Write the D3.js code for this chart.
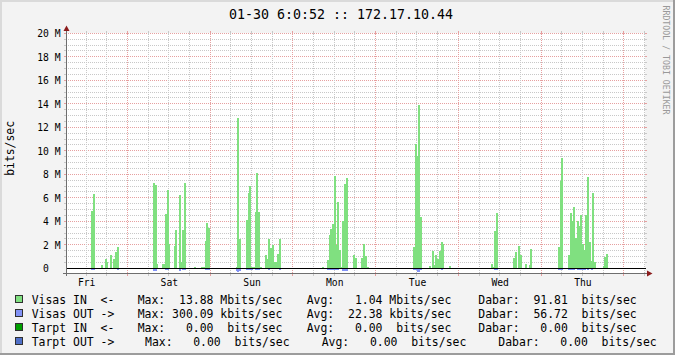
<!DOCTYPE html>
<html><head><meta charset="utf-8">
<script src="https://cdn.jsdelivr.net/npm/d3@7"></script>
<style>
html,body{margin:0;padding:0;background:#f3f3f3;}
svg{display:block;}
text{font-family:"DejaVu Sans Mono",monospace;white-space:pre;}
</style></head><body>
<svg id="c" width="675" height="355"></svg>
<script>
// ---------------- data ----------------
const titleText = "01-30 6:0:52 :: 172.17.10.44";
const yAxisTitle = "bits/sec";
const watermark = "RRDTOOL / TOBI OETIKER";
const startTime = new Date(2015, 0, 23, 6, 0, 52);
const endTime = new Date(2015, 0, 30, 6, 0, 52);
const stepMinutes = 30;
const yMaxM = 20;
const yMinM = -0.43;
const yMajorTicksM = [0, 2, 4, 6, 8, 10, 12, 14, 16, 18, 20];
// samples: [half-hour index from start, Mbit/s]
const visasInSamples = [
  [15,4.9],[16,6.3],[21,0.26],[23,0.77],[24,0.5],[26,1.1],[28,0.77],[29,1.39],[30,1.79],
  [51,7.26],[52,7.06],[53,0.34],[56,0.34],[57,0.34],[58,4.6],[59,6.67],[60,2.1],[63,1.9],[64,3.3],
  [66,6.24],[67,0.5],[68,3.26],[69,7.23],[75,0.1],[79,0.1],[80,0.1],[81,2.33],[82,3.9],[83,3.43],
  [99,0.1],[100,12.77],[101,2.47],[105,4.09],[106,6.41],[107,6.98],[108,0.1],[109,0.1],[110,4.77],
  [111,8.09],[112,4.77],[113,0.1],[116,1.1],[117,0.77],[118,2.47],[119,1.7],[120,2.0],[121,0.5],
  [122,0.5],[123,1.19],[124,2.47],
  [149,0.08],[152,0.68],[153,2.81],[154,3.32],[155,3.74],[156,7.83],[157,2.0],[158,5.62],[159,1.53],
  [160,0.1],[161,4.0],[162,7.15],[163,7.66],[167,1.1],[168,0.85],[172,0.85],[173,2.04],[174,1.02],[175,0.08],
  [202,1.79],[203,10.58],[204,9.56],[205,13.87],[206,4.34],[211,0.17],[213,1.45],[214,0.3],[215,1.1],
  [216,0.77],[217,1.45],[218,2.21],[219,2.04],[223,0.17],
  [247,0.34],[248,0.11],[249,3.15],[250,4.68],[260,0.9],[261,1.4],[263,1.87],[264,1.1],[267,0.34],
  [269,0.26],[270,1.62],
  [286,1.79],[287,7.4],[288,9.36],[292,1.1],[293,4.68],[294,4.0],[295,5.19],[296,2.6],[297,4.0],
  [298,3.6],[299,4.51],[300,2.04],[301,1.53],[302,4.51],[303,7.74],[304,2.21],[305,0.6],[306,6.4],
  [307,0.5],[312,0.17],[313,0.94],[314,1.19]
];
// outgoing magnitudes (drawn below zero)
const visasOutSamples = [
  [15,0.17],[16,0.17],[30,0.12],[51,0.26],[52,0.26],[58,0.11],[59,0.11],[66,0.26],[68,0.1],[69,0.1],
  [81,0.1],[82,0.1],[83,0.1],[99,0.2],[100,0.34],[101,0.2],[105,0.17],[106,0.17],[107,0.17],[108,0.17],
  [110,0.17],[111,0.17],[112,0.17],[118,0.1],[124,0.1],[152,0.12],[153,0.17],[154,0.17],[155,0.17],
  [156,0.17],[157,0.1],[158,0.17],[161,0.2],[162,0.2],[163,0.2],[202,0.17],[203,0.17],[204,0.34],
  [205,0.34],[206,0.17],[218,0.1],[249,0.1],[250,0.1],[286,0.17],[287,0.17],[288,0.17],[292,0.1],
  [293,0.1],[294,0.1],[295,0.1],[297,0.1],[298,0.1],[299,0.1],[300,0.1],[301,0.1],[303,0.17],[305,0.17]
];
const tarptInSamples = [];
const tarptOutSamples = [];
const legendLabels = ["Visas IN  <-", "Visas OUT ->", "Tarpt IN  <-", "Tarpt OUT ->"];
const legendMax = ["Max:  13.88 Mbits/sec", "Max: 300.09 kbits/sec", "Max:   0.00  bits/sec", "Max:   0.00  bits/sec"];
const legendAvg = ["Avg:   1.04 Mbits/sec", "Avg:  22.38 kbits/sec", "Avg:   0.00  bits/sec", "Avg:   0.00  bits/sec"];
const legendDabar = ["Dabar:  91.81  bits/sec", "Dabar:  56.72  bits/sec", "Dabar:   0.00  bits/sec", "Dabar:   0.00  bits/sec"];
const seriesColors = ["#80e080", "#8292f5", "#00a000", "#5070c8"];

// ---------------- drawing ----------------
const svg = d3.select("#c");
const W = 675, H = 355;
const stepMs = stepMinutes * 60000;

const x = d3.scaleTime().domain([startTime, endTime]).range([65.5, 644.5]);
const y = d3.scaleLinear().domain([yMinM, yMaxM]).range([273.4, 33.3]);
const X0 = 66.5, YB = 273.5;

const minorCol = "#c8c8c8", majorCol = "#e6a0a0";
const defs = svg.append("defs");
function pat(id, w, h, col) {
  const p = defs.append("pattern").attr("id", id).attr("patternUnits", "userSpaceOnUse")
    .attr("x", 0).attr("y", 0).attr("width", w).attr("height", h);
  p.append("rect").attr("x", 0).attr("y", 0).attr("width", 1).attr("height", 1).attr("fill", col);
}
pat("hMinor", 2, 1, minorCol); pat("hMajor", 2, 1, majorCol);
pat("vMinor", 1, 2, minorCol); pat("vMajor", 1, 2, majorCol);

// background & frame
svg.append("rect").attr("width", W).attr("height", H).attr("fill", "#f3f3f3");
svg.append("rect").attr("x", 0).attr("y", 0).attr("width", W).attr("height", 2).attr("fill", "#dadada");
svg.append("rect").attr("x", 0).attr("y", 0).attr("width", 2).attr("height", H).attr("fill", "#dadada");
svg.append("rect").attr("x", 0).attr("y", H - 2).attr("width", W).attr("height", 2).attr("fill", "#9c9c9c");
svg.append("rect").attr("x", W - 2).attr("y", 0).attr("width", 2).attr("height", H).attr("fill", "#9c9c9c");

// plot canvas
svg.append("rect").attr("x", 66).attr("y", 33).attr("width", 579).attr("height", 240).attr("fill", "#ffffff");

const grid = svg.append("g").attr("shape-rendering", "crispEdges");

// horizontal grid
const hMinorV = d3.range(0.5, yMaxM + 0.01, 0.5).filter(v => Math.abs(v % 2) > 0.01);
const hMajorV = yMajorTicksM.filter(v => v > 0);
function hLine(v, col, id) {
  const yy = Math.floor(y(v));
  grid.append("rect").attr("x", 67).attr("y", yy).attr("width", 578).attr("height", 1).attr("fill", `url(#${id})`);
  grid.append("rect").attr("x", 64).attr("y", yy).attr("width", 3).attr("height", 1).attr("fill", col);
  grid.append("rect").attr("x", 645).attr("y", yy).attr("width", 2).attr("height", 1).attr("fill", col);
}
hMinorV.forEach(v => hLine(v, minorCol, "hMinor"));
hMajorV.forEach(v => hLine(v, majorCol, "hMajor"));

// vertical grid
const vTimes = d3.timeHour.every(6).range(startTime, endTime);
function vLine(t, col, id) {
  const xx = Math.floor(x(t));
  grid.append("rect").attr("x", xx).attr("y", 34).attr("width", 1).attr("height", 239).attr("fill", `url(#${id})`);
  grid.append("rect").attr("x", xx).attr("y", 31).attr("width", 1).attr("height", 3).attr("fill", col);
  grid.append("rect").attr("x", xx).attr("y", 274).attr("width", 1).attr("height", 2).attr("fill", col);
}
vTimes.filter(t => t.getHours() !== 0).forEach(t => vLine(t, minorCol, "vMinor"));
vTimes.filter(t => t.getHours() === 0).forEach(t => vLine(t, majorCol, "vMajor"));

// series as pixel-snapped bars (each sample at least 2 px wide, later samples overdraw)
const bars = svg.append("g").attr("shape-rendering", "crispEdges");
const slotX = i => Math.floor(x(new Date(+startTime + i * stepMs)));
function drawSeries(samples, sign, color) {
  bars.append("g").selectAll("rect").data(samples).join("rect")
    .attr("x", d => slotX(d[0]))
    .attr("width", d => Math.max(2, slotX(d[0] + 1) - slotX(d[0])))
    .attr("y", d => sign > 0 ? Math.round(y(d[1])) : Math.round(y(0)))
    .attr("height", d => sign > 0 ? Math.max(1, Math.round(y(0)) - Math.round(y(d[1])))
                                  : Math.max(1, Math.round(y(-d[1])) - Math.round(y(0))))
    .attr("fill", color);
}
drawSeries(visasInSamples, 1, seriesColors[0]);
drawSeries(visasOutSamples, -1, seriesColors[1]);
drawSeries(tarptInSamples, 1, seriesColors[2]);
drawSeries(tarptOutSamples, -1, seriesColors[3]);

// zero rule
svg.append("rect").attr("x", 66).attr("y", Math.floor(y(0))).attr("width", 580).attr("height", 1).attr("fill", "#000");

// axes lines + arrows
const axisCol = "#6e6e6e";
svg.append("rect").attr("x", 66).attr("y", 28).attr("width", 1).attr("height", 248).attr("fill", axisCol);
svg.append("rect").attr("x", 63).attr("y", 273).attr("width", 585).attr("height", 1).attr("fill", axisCol);
svg.append("path").attr("d", "M63.5,31L69.5,31L66.5,25.5Z").attr("fill", "#8b1c1c");
svg.append("path").attr("d", "M647,270.5L647,276.5L652.5,273.5Z").attr("fill", "#8b1c1c");

// y axis labels
const yAxis = d3.axisLeft(y).tickValues(yMajorTicksM).tickSize(0).tickPadding(6)
  .tickFormat(v => v === 0 ? "0" : v + " M");
const gy = svg.append("g").attr("transform", `translate(${X0},0.3)`).call(yAxis);
gy.select(".domain").remove();
gy.selectAll("text").attr("font-family", "DejaVu Sans Mono").attr("font-size", "9.7px")
  .attr("fill", "#000").attr("dy", "0.34em")
  .attr("dx", v => v === 0 ? -11.6 : 0);

// x axis labels (day names at noon)
const noons = d3.timeDay.range(d3.timeDay.floor(startTime), endTime).map(d => d3.timeHour.offset(d, 12))
  .filter(d => d >= startTime && d <= endTime);
const xAxis = d3.axisBottom(x).tickValues(noons).tickSize(0).tickPadding(5.5)
  .tickFormat(d3.timeFormat("%a"));
const gx = svg.append("g").attr("transform", `translate(0,${YB})`).call(xAxis);
gx.select(".domain").remove();
gx.selectAll("text").attr("font-family", "DejaVu Sans Mono").attr("font-size", "9.7px").attr("fill", "#000");

// title
svg.append("text").attr("x", 341).attr("y", 18.5).attr("text-anchor", "middle")
  .attr("font-size", "13.3px").attr("fill", "#000").text(titleText);

// y axis title
svg.append("text").attr("transform", "translate(14,148.4) rotate(-90)").attr("text-anchor", "middle")
  .attr("font-size", "11.4px").attr("fill", "#000").text(yAxisTitle);

// watermark
svg.append("text").attr("transform", "translate(663,5.5) rotate(90)").attr("text-anchor", "start")
  .attr("font-size", "9.4px").attr("textLength", 109).attr("lengthAdjust", "spacingAndGlyphs")
  .attr("fill", "#999999").text(watermark);

// legend
const colX = [[137.7, 306.7, 478.3], [137.7, 306.7, 478.3], [137.7, 306.7, 478.3], [145, 321.7, 498.3]];
const lg = svg.append("g");
legendLabels.forEach((lab, i) => {
  const by = 303.5 + 14 * i;
  lg.append("rect").attr("x", 15.5).attr("y", by - 8).attr("width", 7).attr("height", 7)
    .attr("fill", seriesColors[i]).attr("stroke", "#303030").attr("shape-rendering", "crispEdges");
  const parts = [lab, legendMax[i], legendAvg[i], legendDabar[i]];
  const xs = [31.7].concat(colX[i]);
  parts.forEach((p, j) => {
    lg.append("text").attr("x", xs[j]).attr("y", by).attr("xml:space", "preserve")
      .attr("font-size", "11.45px").attr("fill", "#000").text(p);
  });
});
</script>
</body></html>
